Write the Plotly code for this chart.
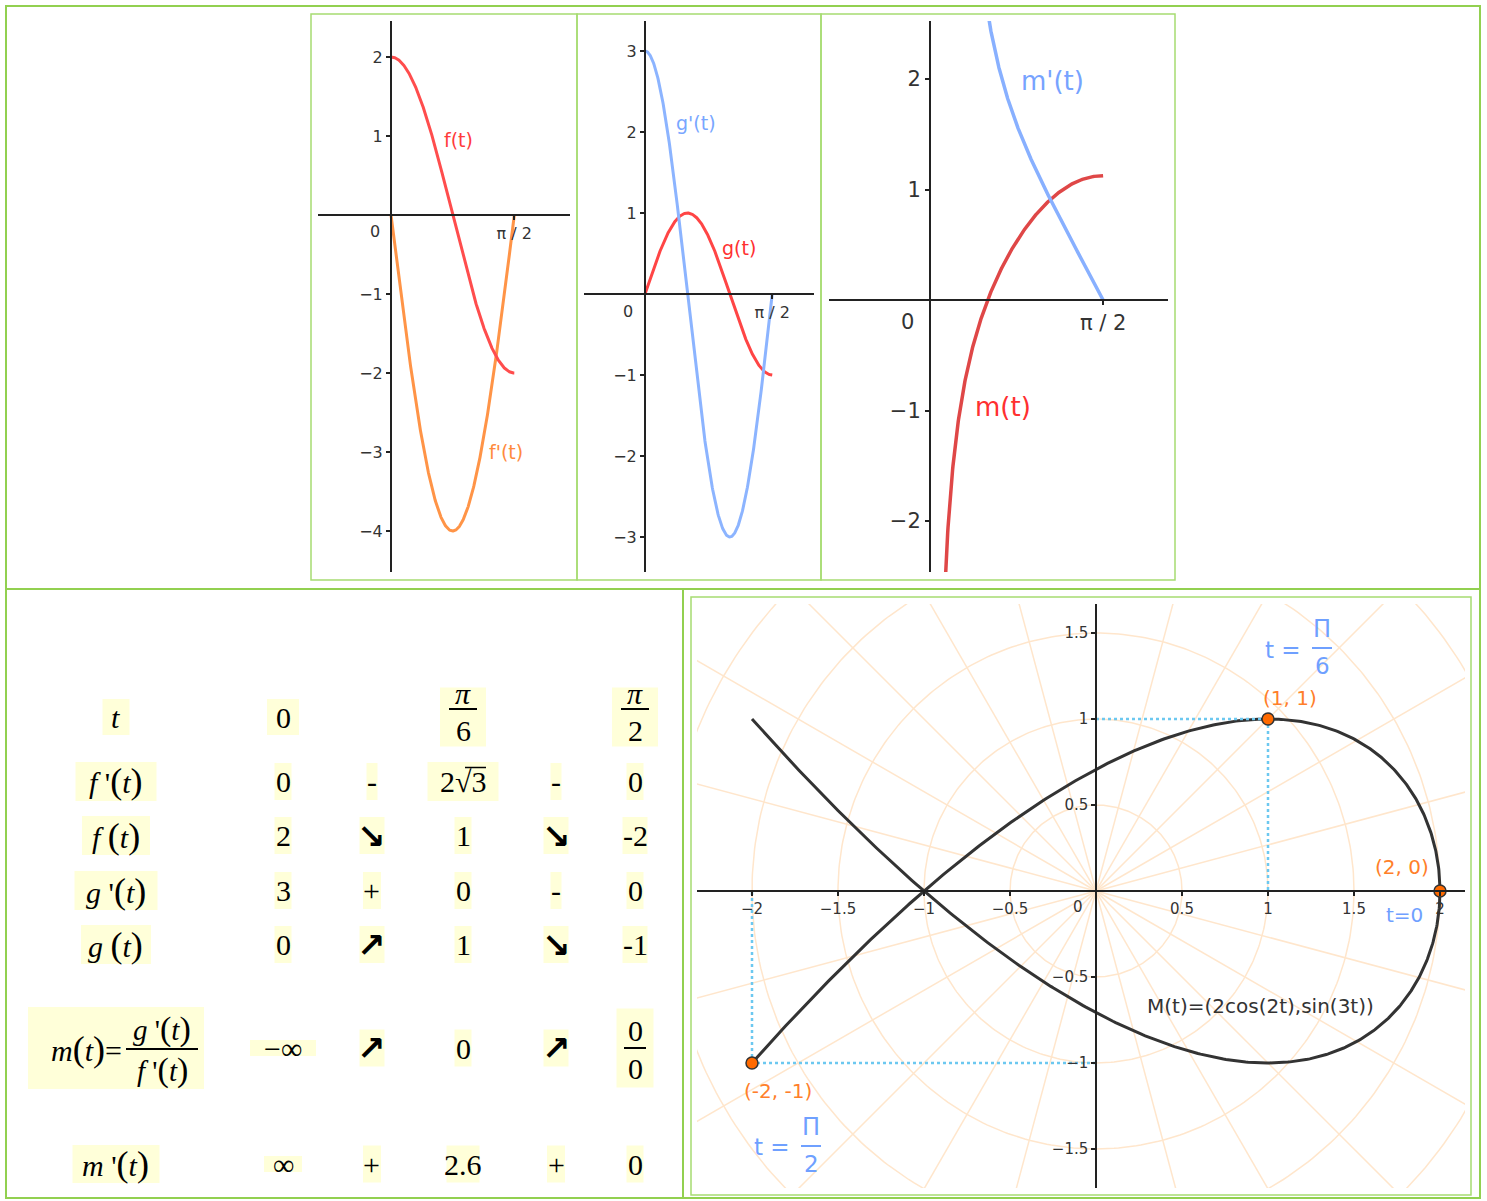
import numpy as np
import plotly.graph_objects as go

W, H = 1487, 1201

# ---------------- variation table ----------------
t_points = ["0", "π/6", "π/2"]
fprime_row = ["0", "-", "2√3", "-", "0"]
f_row = ["2", "↘", "1", "↘", "-2"]
gprime_row = ["3", "+", "0", "-", "0"]
g_row = ["0", "↗", "1", "↘", "-1"]
m_row = ["−∞", "↗", "0", "↗", "0/0"]
mprime_row = ["∞", "+", "2.6", "+", "0"]

# ---------------- remarkable points of M(t) ----------------
key_x = [1, 2, -2]
key_y = [1, 0, -1]

# ---------------- tick labels ----------------
p1_yticks = [-4, -3, -2, -1, 1, 2]
p2_yticks = [-3, -2, -1, 1, 2, 3]
p3_yticks = [-2, -1, 1, 2]
p4_xticks = [-2, -1.5, -1, -0.5, 0.5, 1, 1.5, 2]
p4_yticks = [-1.5, -1, -0.5, 0.5, 1, 1.5]


def f(t):
    return 2 * np.cos(2 * t)


def fp(t):
    return -4 * np.sin(2 * t)


def g(t):
    return np.sin(3 * t)


def gp(t):
    return 3 * np.cos(3 * t)


def m(t):
    return gp(t) / fp(t)


def mp(t):
    return 0.75 * (3 * np.sin(3 * t) * np.sin(2 * t) + 2 * np.cos(3 * t) * np.cos(2 * t)) / np.sin(2 * t) ** 2


def minus(v):
    s = f"{v:g}"
    return s.replace("-", "−")


ann = []
shp = []


def text(x, y, s, size, color="#000", family="Liberation Serif", xa="center", ya="middle"):
    ann.append(dict(x=x / W, y=1 - y / H, xref="paper", yref="paper", text=s, showarrow=False,
                    font=dict(size=size, color=color, family=family), xanchor=xa, yanchor=ya))


def rect(x0, y0, x1, y1, fill=None, line=None, lw=0, layer="below"):
    shp.append(dict(type="rect", xref="paper", yref="paper", x0=x0 / W, x1=x1 / W,
                    y0=1 - y1 / H, y1=1 - y0 / H, fillcolor=fill or "rgba(0,0,0,0)",
                    line=dict(color=line or "rgba(0,0,0,0)", width=lw), layer=layer))


def seg(x0, y0, x1, y1, color, lw, layer="above"):
    shp.append(dict(type="line", xref="paper", yref="paper", x0=x0 / W, x1=x1 / W,
                    y0=1 - y0 / H, y1=1 - y1 / H, line=dict(color=color, width=lw), layer=layer))


# ---------------- page frame ----------------
GREEN = "#92d050"
GREEN2 = "#a6dc72"
rect(6, 6, 1480, 1198, line=GREEN, lw=2, layer="above")
seg(6, 589, 1480, 589, GREEN, 2)
seg(683, 589, 683, 1198, GREEN, 2)
for x0, x1 in [(311, 577), (577, 821), (821, 1175)]:
    rect(x0, 14, x1, 580, line=GREEN2, lw=1.5, layer="above")
rect(691, 597, 1471, 1195, line=GREEN2, lw=1.5, layer="above")

# ---------------- table ----------------
YEL = "#ffffd9"
FS = 30
cols = [283, 372, 463, 556, 635]
row_y = [717, 781.5, 835.5, 890.5, 944.5, 1048, 1164]
LX = 116


def P(c, size=36):
    return f"<span style='font-size:{size}px'>{c}</span>"


labels = [
    ("<i>t</i>", 27, 36),
    ("<i>f</i> '" + P("(") + "<i>t</i>" + P(")"), 81, 39),
    ("<i>f</i> " + P("(") + "<i>t</i>" + P(")"), 68, 39),
    ("<i>g</i> '" + P("(") + "<i>t</i>" + P(")"), 83, 39),
    ("<i>g</i> " + P("(") + "<i>t</i>" + P(")"), 70, 39),
    (None, 176, 82),
    ("<i>m</i> '" + P("(") + "<i>t</i>" + P(")"), 87, 38),
]
for (lab, bw, bh), y in zip(labels, row_y):
    rect(LX - bw / 2, y - bh / 2, LX + bw / 2, y + bh / 2, fill=YEL)
    if lab is not None:
        text(LX, y, lab, FS)

# m(t) = g'(t) / f'(t)
ym = row_y[5]
text(124, ym + 1, "<i>m</i>" + P("(") + "<i>t</i>" + P(")") + "=", FS, xa="right")
seg(126, ym + 1, 198, ym + 1, "#000", 2)
text(162, ym - 19, "<i>g</i> '" + P("(", 34) + "<i>t</i>" + P(")", 34), 29)
text(162, ym + 22, "<i>f</i> '" + P("(", 34) + "<i>t</i>" + P(")", 34), 29)


def cell_size(s, r):
    if "/" in s:
        return (46, 59) if r == 0 else (37, 79)
    if s in ("↘", "↗"):
        return (25, 37)
    if s == "-":
        return (11, 37)
    if s == "+":
        return (18, 37)
    if s == "2√3":
        return (71, 39)
    if s == "−∞":
        return (66, 16)
    if s == "∞":
        return (38, 16)
    if r == 0:
        return (32, 36)
    return (9 + 8 * len(s), 37)


def draw_cell(x, y, s, r):
    bw, bh = cell_size(s, r)
    rect(x - bw / 2, y - bh / 2, x + bw / 2, y + bh / 2, fill=YEL)
    if "/" in s:
        num, den = s.split("/")
        if num == "π":
            text(x, y - 24, "<i>π</i>", FS)
            seg(x - 14, y - 8, x + 14, y - 8, "#000", 2)
            text(x, y + 13, den, FS)
        else:
            text(x, y - 18, num, FS)
            seg(x - 11, y, x + 11, y, "#000", 2)
            text(x, y + 20, den, FS)
    elif s in ("↘", "↗"):
        text(x, y, "<b>" + s + "</b>", 34, family="DejaVu Sans")
    elif s == "2√3":
        text(x, y, "2√3", FS)
        seg(x + 2, y - 14, x + 23, y - 14, "#000", 1.5)
    else:
        text(x, y, s, FS)


for i, s in enumerate(t_points):
    draw_cell(cols[2 * i], row_y[0], s, 0)
for r, row in enumerate([fprime_row, f_row, gprime_row, g_row, m_row, mprime_row], start=1):
    for x, s in zip(cols, row):
        draw_cell(x, row_y[r], s, r)

# ---------------- function panels ----------------
layout = {}
TICKC = "#333333"
AXC = "#222222"


def add_axes(n, xd, yd, origin, ppu, xtv, xtt, ytv, ytt, fs, lw=2):
    x0px, y0px = origin
    xr = [(xd[0] - x0px) / ppu[0], (xd[1] - x0px) / ppu[0]]
    yr = [(y0px - yd[1]) / ppu[1], (y0px - yd[0]) / ppu[1]]
    suf = "" if n == 1 else str(n)
    tick = dict(family="DejaVu Sans", size=fs, color=TICKC)
    common = dict(showline=True, linecolor=AXC, linewidth=lw, ticks="outside", ticklen=4,
                  tickwidth=1.5, tickcolor=AXC, tickfont=tick, showgrid=False,
                  zeroline=False, fixedrange=True, anchor="free")
    layout["xaxis" + suf] = dict(domain=[xd[0] / W, xd[1] / W], range=xr,
                                 position=1 - y0px / H, tickvals=xtv, ticktext=xtt, **common)
    layout["yaxis" + suf] = dict(domain=[1 - yd[1] / H, 1 - yd[0] / H], range=yr,
                                 position=x0px / W, tickvals=ytv, ticktext=ytt, **common)


HALF_PI = np.pi / 2
add_axes(1, (318, 570), (21, 572), (391, 215), (78.5, 79), [HALF_PI], ["π / 2"],
         p1_yticks, [minus(v) for v in p1_yticks], 16)
add_axes(2, (584, 814), (21, 572), (645, 294), (81, 81), [HALF_PI], ["π / 2"],
         p2_yticks, [minus(v) for v in p2_yticks], 16)
add_axes(3, (829, 1168), (21, 572), (930, 300), (110.2, 110.5), [HALF_PI], ["π / 2"],
         p3_yticks, [minus(v) for v in p3_yticks], 21)
add_axes(4, (697, 1465), (604, 1188), (1096, 891), (172, 172),
         p4_xticks, [minus(v) for v in p4_xticks], p4_yticks, [minus(v) for v in p4_yticks], 15,
         lw=1.5)

text(375, 232, "0", 16, TICKC, "DejaVu Sans")
text(628, 311, "0", 16, TICKC, "DejaVu Sans")
text(907, 322, "0", 21, TICKC, "DejaVu Sans")
text(1078, 907, "0", 15, TICKC, "DejaVu Sans")

fig = go.Figure()
t = np.linspace(0, HALF_PI, 400)


def line(x, y, ax, color, width=3, dash=None):
    fig.add_trace(go.Scatter(x=x, y=y, xaxis="x" + ax, yaxis="y" + ax, mode="lines",
                             line=dict(color=color, width=width, dash=dash),
                             hoverinfo="skip", showlegend=False))


line(t, fp(t), "", "#ff9447")
line(t, f(t), "", "#ff4d4d")
text(458, 140, "f(t)", 19, "#ff3b3b", "DejaVu Sans")
text(506, 452, "f'(t)", 19, "#ff8a3d", "DejaVu Sans")

line(t, g(t), "2", "#ff4545")
line(t, gp(t), "2", "#8cb4ff")
text(696, 123, "g'(t)", 19, "#78a6ff", "DejaVu Sans")
text(739, 248, "g(t)", 19, "#ff3030", "DejaVu Sans")

tm = np.linspace(0.08, HALF_PI - 1e-3, 500)
line(np.append(tm, HALF_PI), np.append(m(tm), 9 / 8), "3", "#df4747", 3.5)
line(np.append(tm, HALF_PI), np.append(mp(tm), 0), "3", "#88b0ff", 3.5)
text(1052, 81, "m'(t)", 26, "#77a3ff", "DejaVu Sans")
text(1003, 407, "m(t)", 26, "#ff3030", "DejaVu Sans")

# ---------------- polar grid + curve M(t) ----------------
GRID = "#ffe6cc"
gx, gy = [], []
for ang in np.arange(0, 360, 15):
    a = np.radians(ang)
    gx += [0, 4 * np.cos(a), None]
    gy += [0, 4 * np.sin(a), None]
circ = np.linspace(0, 2 * np.pi, 361)
for r in np.arange(0.5, 3.01, 0.5):
    gx += list(r * np.cos(circ)) + [None]
    gy += list(r * np.sin(circ)) + [None]
line(gx, gy, "4", GRID, 1.5)

ts = np.linspace(-HALF_PI, HALF_PI, 800)
line(2 * np.cos(2 * ts), np.sin(3 * ts), "4", "#333333", 3)

DOT = "#6cc8f0"
for kx, ky in zip(key_x, key_y):
    if kx != 0 and ky != 0:
        line([0, kx], [ky, ky], "4", DOT, 2.5, "dot")
        line([kx, kx], [ky, 0], "4", DOT, 2.5, "dot")

fig.add_trace(go.Scatter(x=key_x, y=key_y, xaxis="x4", yaxis="y4", mode="markers",
                         marker=dict(size=12, color="#ff6a00", line=dict(color="#333", width=1.5)),
                         cliponaxis=False, hoverinfo="skip", showlegend=False))

ORANGE = "#ff7f2a"
BLUE = "#6fa0ff"
pt_label_pos = [(1290, 698), (1402, 867), (778, 1091)]
for (lx, ly), kx, ky in zip(pt_label_pos, key_x, key_y):
    text(lx, ly, f"({kx}, {ky})", 20, ORANGE, "DejaVu Sans")
text(1260, 1006, "M(t)=(2cos(2t),sin(3t))", 20, "#333333", "DejaVu Sans")
text(1404, 915, "t=0", 20, BLUE, "DejaVu Sans")

# t = Π/6 and t = Π/2 captions
for (tx, ty), (fx, fy), den in [((1283, 650), (1322, 648), "6"), ((772, 1147), (811, 1146), "2")]:
    text(tx, ty, "t =", 23, BLUE, "DejaVu Sans")
    text(fx, fy - 19, "Π", 24, BLUE, "DejaVu Sans")
    seg(fx - 10, fy, fx + 10, fy, BLUE, 2)
    text(fx, fy + 18, den, 23, BLUE, "DejaVu Sans")

fig.update_layout(width=W, height=H, margin=dict(l=0, r=0, t=0, b=0),
                  paper_bgcolor="white", plot_bgcolor="rgba(0,0,0,0)",
                  showlegend=False, annotations=ann, shapes=shp, **layout)

fig.write_html("out.html")
